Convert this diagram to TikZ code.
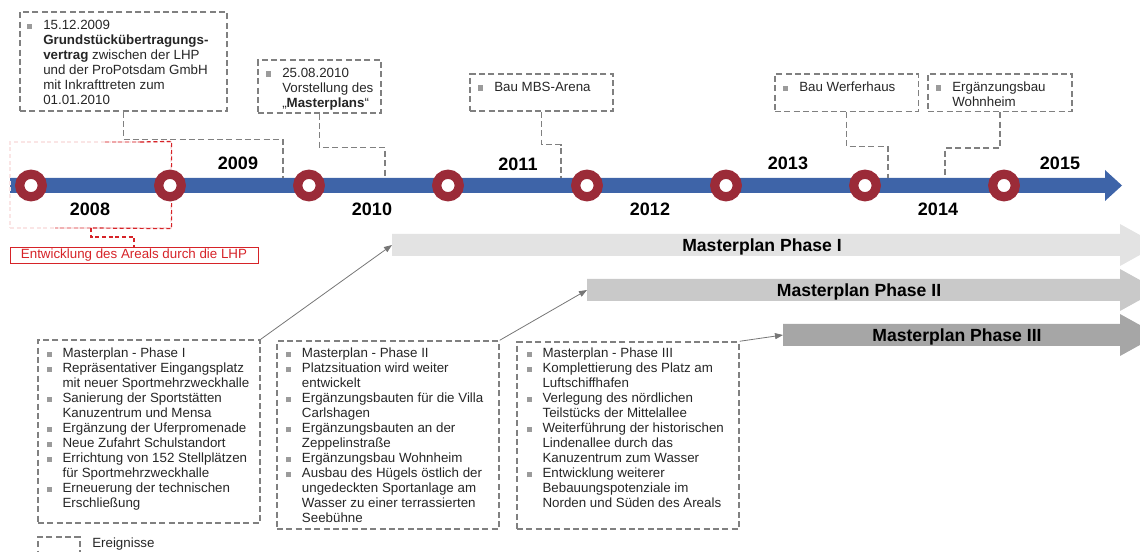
\documentclass[tikz,border=0pt]{standalone}
\usepackage{fontspec}
\setmainfont{Liberation Sans}
\usetikzlibrary{arrows.meta,positioning,fit}

\definecolor{tlblue}{RGB}{62,100,168}
\definecolor{ringred}{RGB}{155,43,56}
\definecolor{dashgray}{RGB}{128,128,128}
\definecolor{bulgray}{RGB}{155,155,155}
\definecolor{lhpred}{RGB}{214,35,40}
\definecolor{arrgray}{RGB}{118,118,118}
\definecolor{phI}{RGB}{227,227,227}
\definecolor{phII}{RGB}{201,201,201}
\definecolor{phIII}{RGB}{166,166,166}

% bullet item with hanging indent, and a box for a bullet list
\newcommand{\itm}{\par\noindent\hangindent=12pt\hangafter=1%
  \makebox[12pt][l]{\textcolor{bulgray}{\rule[0.7pt]{3.8pt}{3.8pt}}}\ignorespaces}
\newcommand{\blist}[1]{\begin{minipage}[t]{200pt}#1\end{minipage}}

\begin{document}
\begin{tikzpicture}[x=0.75pt, y=-0.75pt,
    font=\fontsize{10pt}{11.25pt}\selectfont,
    evbox/.style={draw=dashgray, line width=1.1pt, dash pattern=on 4.5pt off 2.5pt, inner sep=0pt},
    evtxt/.style={anchor=base west, inner sep=0pt, text=black!85},
    conn/.style={draw=dashgray, line width=1.1pt, dash pattern=on 4.5pt off 2.5pt},
    ring/.style={circle, draw=ringred, line width=6.9pt, fill=white, minimum size=16.9pt, inner sep=0pt},
    yr/.style={font=\fontsize{13.5pt}{16pt}\selectfont\bfseries},
    phlbl/.style={anchor=base, inner sep=0pt, font=\fontsize{13.2pt}{15pt}\selectfont\bfseries},
    arr/.style={draw=arrgray, line width=0.6pt, -{Triangle[length=6pt,width=4.5pt]}},
    lhp/.style={draw=lhpred, line width=0.9pt, dash pattern=on 3pt off 2pt},
    lhplbl/.style={draw=lhpred, text=lhpred, line width=0.6pt, minimum width=186pt,
      minimum height=12.5pt, inner sep=0pt},
  ]
  \useasboundingbox (0,0) rectangle (1140,552);
  \clip (0,0) rectangle (1140,552);

  % timeline
  \fill[tlblue] (10,178) -- (1105,178) -- (1105,170) -- (1122,185.5) -- (1105,201)
    -- (1105,193) -- (10,193) -- cycle;

  % events above the timeline
  \node[evbox, fit={(20,12) (227,111)}] (evA) {};
  \node[evtxt] (evAt) at (27,30) {\blist{\itm 15.12.2009\\
    \textbf{Grundstückübertragungs-}\\ \textbf{vertrag} zwischen der LHP\\
    und der ProPotsdam GmbH\\ mit Inkrafttreten zum\\ 01.01.2010}};
  \node[evbox, fit={(258,60) (381,113)}] (evB) {};
  \node[evtxt] (evBt) at (266,77.5) {\blist{\itm 25.08.2010\\ Vorstellung des\\
    „\textbf{Masterplans}“}};
  \node[evbox, fit={(470,74) (613,111)}] (evC) {};
  \node[evtxt] (evCt) at (478,91.5) {\blist{\itm Bau MBS-Arena}};
  \node[evbox, fit={(775,74) (918.5,111.5)}] (evD) {};
  \node[evtxt] (evDt) at (783,92) {\blist{\itm Bau Werferhaus}};
  \node[evbox, fit={(928,74) (1072,111.5)}] (evE) {};
  \node[evtxt] (evEt) at (936,91.5) {\blist{\itm Ergänzungsbau\\ Wohnheim}};

  \coordinate (tA) at (283,178);
  \coordinate (tB) at (385,178);
  \coordinate (tC) at (561,178);
  \coordinate (tD) at (888,178);
  \coordinate (tE) at (945,178);
  \draw[conn] (evA.south) -- ++(0,28) -| (tA);
  \draw[conn] (evB.south) -- ++(0,34) -| (tB);
  \draw[conn] (evC.south) -- ++(0,33) -| (tC);
  \draw[conn] (evD.south) -- ++(0,34.5) -| (tD);
  \draw[conn] (evE.south) -- ++(0,36) -| (tE);

  % LHP period
  \node[lhp, draw=lhpred!12, inner sep=0pt, fit={(10,142) (171,228)}] (lhpspan) {};
  \draw[lhp, draw=lhpred!40] (105,142) -- (140,142);
  \draw[lhp] (140,142) -- (lhpspan.north east) -- (lhpspan.south east) -- (91,228);
  \draw[lhp, draw=lhpred!35] (91,228) -- (55,228);
  \node[lhplbl] (areal) at (134,255.3) {Entwicklung des Areals durch die LHP};
  \coordinate (lhpfoot) at (91,228);
  \draw[lhp] (lhpfoot) -- ++(0,9) -| (areal.north);

  % rings and years
  \foreach \i in {0,...,7}
    \node[ring] (c\i) at (31+139*\i,185.5) {};
  \foreach \yy/\x/\y in {2008/90/209, 2009/238/163.5, 2010/372/209.5, 2011/518/164,
      2012/650/209, 2013/788/163.5, 2014/938/209, 2015/1060/163.5}
    \node[yr] (y\yy) at (\x,\y) {\yy};

  % masterplan phases
  \foreach \i/\x/\y/\col/\tx/\lbl in {1/392/245/phI/762/Masterplan Phase I,
      2/587/290/phII/859/Masterplan Phase II, 3/783/335/phIII/957/Masterplan Phase III}{
    \fill[\col] (\x,\y-11) -- (1120,\y-11) -- (1120,\y-21) -- (1158,\y) -- (1120,\y+21)
      -- (1120,\y+11) -- (\x,\y+11) -- cycle;
    \coordinate (ph\i) at (\x,\y);
    \node[phlbl] (phlbl\i) at (\tx,\y+6.3) {\lbl};
  }

  % phase contents
  \node[evbox, fit={(38,340) (260,523)}] (mp1) {};
  \node[evtxt] (mp1t) at (46.3,358) {\blist{%
    \itm Masterplan - Phase I
    \itm Repräsentativer Eingangsplatz\\ mit neuer Sportmehrzweckhalle
    \itm Sanierung der Sportstätten\\ Kanuzentrum und Mensa
    \itm Ergänzung der Uferpromenade
    \itm Neue Zufahrt Schulstandort
    \itm Errichtung von 152 Stellplätzen\\ für Sportmehrzweckhalle
    \itm Erneuerung der technischen\\ Erschließung}};
  \node[evbox, fit={(277,341) (499,529)}] (mp2) {};
  \node[evtxt] (mp2t) at (285.7,358) {\blist{%
    \itm Masterplan - Phase II
    \itm Platzsituation wird weiter\\ entwickelt
    \itm Ergänzungsbauten für die Villa\\ Carlshagen
    \itm Ergänzungsbauten an der\\ Zeppelinstraße
    \itm Ergänzungsbau Wohnheim
    \itm Ausbau des Hügels östlich der\\ ungedeckten Sportanlage am\\
      Wasser zu einer terrassierten\\ Seebühne}};
  \node[evbox, fit={(517,342) (739,529)}] (mp3) {};
  \node[evtxt] (mp3t) at (526.3,358) {\blist{%
    \itm Masterplan - Phase III
    \itm Komplettierung des Platz am\\ Luftschiffhafen
    \itm Verlegung des nördlichen\\ Teilstücks der Mittelallee
    \itm Weiterführung der historischen\\ Lindenallee durch das\\
      Kanuzentrum zum Wasser
    \itm Entwicklung weiterer\\ Bebauungspotenziale im\\ Norden und Süden des Areals}};

  \draw[arr] (mp1.north east) -- (ph1);
  \draw[arr] (mp2.north east) -- (ph2);
  \draw[arr] (mp3.north east) -- (ph3);

  % legend
  \node[evbox, fit={(38,537) (80,570)}] (leg) {};
  \node[evtxt] (legt) at (92,547.5) {Ereignisse};
\end{tikzpicture}
\end{document}
